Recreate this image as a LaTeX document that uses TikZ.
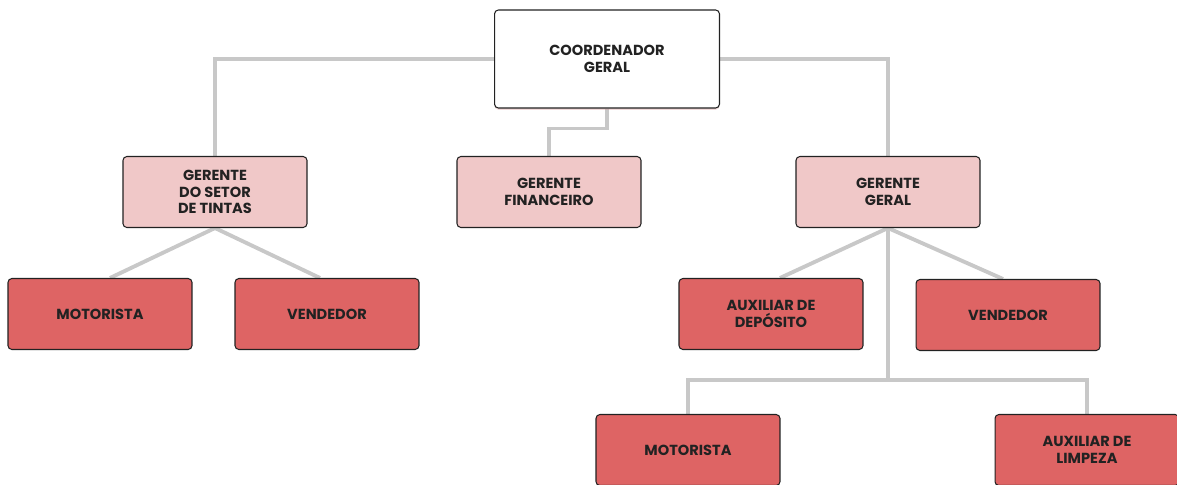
\documentclass[tikz,border=0pt]{standalone}
\usepackage{fontspec}
\setmainfont{Poppins}
\usetikzlibrary{shadows}
\definecolor{BoxPink}{RGB}{240,200,200}
\definecolor{BoxRed}{RGB}{222,100,100}
\definecolor{LineGray}{RGB}{200,200,200}
\definecolor{InkDark}{RGB}{34,34,34}
\definecolor{GlowPink}{RGB}{215,150,150}
\pgfdeclarelayer{linhas}
\pgfsetlayers{linhas,main}

\begin{document}
\begin{tikzpicture}[x=0.02cm,y=-0.02cm,
  cargo/.style={draw=InkDark,line width=0.6pt,rounded corners=2.2pt,
    minimum width=3.68cm,minimum height=1.42cm,align=center,
    font=\fontsize{8.3}{9.4}\selectfont\bfseries,text=InkDark},
  chefe/.style={cargo,fill=white,minimum width=4.5cm,minimum height=1.96cm,
    drop shadow={shadow xshift=0pt,shadow yshift=-1pt,fill=GlowPink,opacity=0.35}},
  gerente/.style={cargo,fill=BoxPink},
  equipe/.style={cargo,fill=BoxRed},
  ligacao/.style={draw=LineGray,line width=2.2pt}]
  \useasboundingbox (0,0) rectangle (1177,484);
  \clip (0,0) rectangle (1177,484);
  \node[chefe] (coord) at (607,59) {COORDENADOR\\GERAL};
  \node[gerente] (tintas) at (215,192) {GERENTE\\DO SETOR\\DE TINTAS};
  \node[gerente] (financ) at (549,192) {GERENTE\\FINANCEIRO};
  \node[gerente] (geral) at (888,192) {GERENTE\\GERAL};
  \node[equipe] (motA) at (100,314) {MOTORISTA};
  \node[equipe] (vendA) at (327,314) {VENDEDOR};
  \node[equipe] (deposito) at (771,314) {AUXILIAR DE\\DEPÓSITO};
  \node[equipe] (vendB) at (1008,315) {VENDEDOR};
  \node[equipe] (motB) at (688,450) {MOTORISTA};
  \node[equipe] (limpeza) at (1087,450) {AUXILIAR DE\\LIMPEZA};
  \coordinate (split) at (888,380);
  % connectors behind the boxes
  \begin{pgfonlayer}{linhas}
    \path[ligacao] (coord.west) -| (tintas.north);
    \path[ligacao] (coord.east) -| (geral.north);
    \path[ligacao] (coord.south) -- ++(0,20) -| (financ.north);
    \path[ligacao] (tintas.south) -- (motA.north -| 110,0);
    \path[ligacao] (tintas.south) -- (vendA.north -| 320,0);
    \path[ligacao] (geral.south) -- (deposito.north -| 780,0);
    \path[ligacao] (geral.south) -- (vendB.north -| 1003,0);
    \path[ligacao] (geral.south) -- (split);
    \path[ligacao] (motB.north) |- (split) -| (limpeza.north);
  \end{pgfonlayer}
\end{tikzpicture}
\end{document}
